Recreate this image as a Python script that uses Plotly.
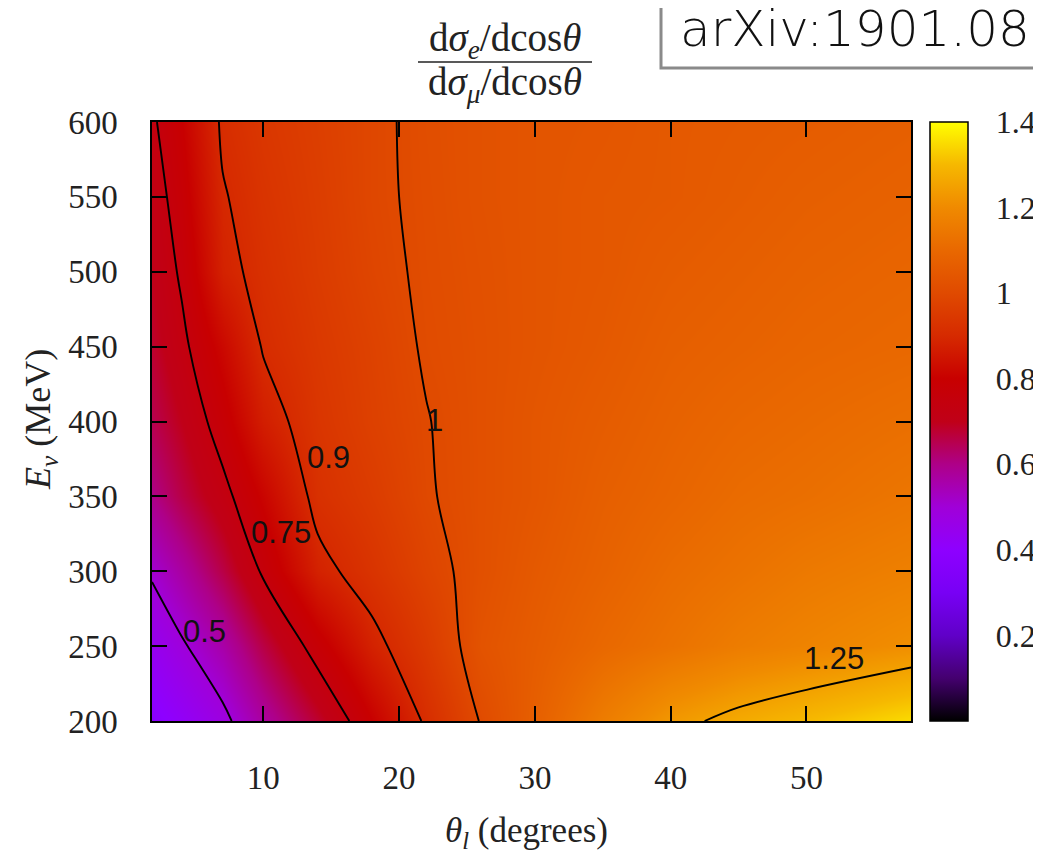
import plotly.graph_objects as go

# ---------------- data ----------------
theta_deg = [1.8, 4, 7, 10, 14, 18, 22, 26, 30, 35, 40, 45, 50, 57.7]
energy_mev = [200, 250, 300, 350, 400, 450, 500, 550, 600]

ratio_E200 = [0.38, 0.42, 0.48, 0.57, 0.68, 0.80, 0.91, 1.003, 1.07, 1.16, 1.23, 1.27, 1.30, 1.35]
ratio_E250 = [0.44, 0.49, 0.56, 0.66, 0.78, 0.88, 0.95, 1.03, 1.06, 1.10, 1.13, 1.16, 1.18, 1.21]
ratio_E300 = [0.51, 0.57, 0.66, 0.76, 0.88, 0.93, 0.98, 1.02, 1.05, 1.08, 1.11, 1.13, 1.15, 1.17]
ratio_E350 = [0.60, 0.66, 0.73, 0.81, 0.92, 0.955, 0.995, 1.02, 1.04, 1.07, 1.09, 1.11, 1.12, 1.14]
ratio_E400 = [0.65, 0.70, 0.78, 0.87, 0.935, 0.97, 0.998, 1.02, 1.04, 1.06, 1.08, 1.095, 1.105, 1.12]
ratio_E450 = [0.68, 0.735, 0.82, 0.905, 0.945, 0.975, 1.005, 1.02, 1.035, 1.05, 1.07, 1.08, 1.09, 1.10]
ratio_E500 = [0.70, 0.76, 0.88, 0.92, 0.955, 0.985, 1.008, 1.022, 1.035, 1.045, 1.06, 1.07, 1.08, 1.09]
ratio_E550 = [0.72, 0.78, 0.895, 0.93, 0.96, 0.99, 1.01, 1.025, 1.035, 1.045, 1.05, 1.06, 1.07, 1.08]
ratio_E600 = [0.74, 0.80, 0.91, 0.94, 0.965, 0.99, 1.012, 1.025, 1.035, 1.04, 1.05, 1.055, 1.06, 1.07]
ratio_grid = [ratio_E200, ratio_E250, ratio_E300, ratio_E350, ratio_E400,
              ratio_E450, ratio_E500, ratio_E550, ratio_E600]

contour_levels = [0.5, 0.75, 0.9, 1.0, 1.25]
contour_label_text = ["0.5", "0.75", "0.9", "1", "1.25"]
contour_label_theta = [5.7, 11.3, 14.8, 22.6, 52.0]
contour_label_energy = [260, 326, 376, 401, 242]

x_ticks = [10, 20, 30, 40, 50]
y_ticks = [200, 250, 300, 350, 400, 450, 500, 550, 600]
cbar_ticks = [0.2, 0.4, 0.6, 0.8, 1.0, 1.2, 1.4]

# ---------------- style ----------------
ZMIN, ZMAX = 0.0, 1.4
palette_vals = [0.0, 0.1, 0.2, 0.3, 0.4, 0.5, 0.6, 0.7, 0.8, 0.9, 1.0, 1.1, 1.2, 1.3, 1.4]
palette_cols = ['#000000', '#44006f', '#6000c8', '#7800f5', '#8e00ff', '#a000d8',
                '#ae0088', '#c00018', '#c80000', '#d62a00', '#e04a00', '#e96800',
                '#f08a00', '#f6b800', '#ffff00']
colorscale = [[v / ZMAX, c] for v, c in zip(palette_vals, palette_cols)]

# page body adds an offset; the figure is sized/positioned in screen pixels
OFF = 8
W_FIG, H_FIG = 1041 - OFF, 855 - OFF
SL, SR, ST, SB = 152, 911, 122, 721          # plot box in screen pixels
L, R, T, B = SL - OFF, SR - OFF, ST - OFF, SB - OFF
PW, PH = R - L, B - T


def px(xs):
    return (xs - OFF - L) / PW


def py(ys):
    return (B - (ys - OFF)) / PH


SERIF = "Liberation Serif"
SANS = "Liberation Sans"
TXT = "#222"

fig = go.Figure()

fig.add_trace(go.Heatmap(
    x=theta_deg, y=energy_mev, z=ratio_grid,
    zsmooth="best", zmin=ZMIN, zmax=ZMAX, colorscale=colorscale,
    hoverinfo="skip",
    colorbar=dict(
        x=px(930), xanchor="left", xpad=0, y=0.5, yanchor="middle", ypad=0,
        len=1, lenmode="fraction", thickness=38,
        outlinewidth=1.5, outlinecolor="black",
        tickvals=cbar_ticks, ticks="outside", ticklen=21,
        tickcolor="rgba(0,0,0,0)",
        tickfont=dict(family=SERIF, size=32, color=TXT),
    ),
))

for lev in contour_levels:
    fig.add_trace(go.Contour(
        x=theta_deg, y=energy_mev, z=ratio_grid,
        contours=dict(start=lev, end=lev, size=1, coloring="none"),
        line=dict(color="black", width=1.9, smoothing=1.0),
        showscale=False, hoverinfo="skip",
    ))

fig.update_layout(
    width=W_FIG, height=H_FIG,
    margin=dict(l=L, r=W_FIG - R, t=T, b=H_FIG - B, autoexpand=False),
    paper_bgcolor="white", plot_bgcolor="white",
    showlegend=False,
    xaxis=dict(range=[1.8, 57.7], tickvals=x_ticks, ticks="inside", ticklen=15,
               tickwidth=1.5, tickcolor="black", showline=True, linecolor="black",
               linewidth=1.5, mirror="ticks", showgrid=False, zeroline=False,
               ticklabelstandoff=27,
               tickfont=dict(family=SERIF, size=33, color=TXT)),
    yaxis=dict(range=[200, 600], tickvals=y_ticks, ticks="inside", ticklen=15,
               tickwidth=1.5, tickcolor="black", showline=True, linecolor="black",
               linewidth=1.5, mirror="ticks", showgrid=False, zeroline=False,
               ticklabelstandoff=26,
               tickfont=dict(family=SERIF, size=33, color=TXT)),
)

annotations = []
for txt, tx, ty in zip(contour_label_text, contour_label_theta, contour_label_energy):
    annotations.append(dict(x=tx, y=ty, xref="x", yref="y", text=txt, showarrow=False,
                            xanchor="center", yanchor="middle",
                            font=dict(family=SANS, size=31, color="#111")))


def paper_text(xs, ys, text, size, family=SERIF, **kw):
    d = dict(x=px(xs), y=py(ys), xref="paper", yref="paper", text=text,
             showarrow=False, xanchor="center", yanchor="middle",
             font=dict(family=family, size=size, color=TXT))
    d.update(kw)
    return d


# axis titles
annotations.append(paper_text(526, 832, "<i>θ</i><sub><i>l</i></sub> (degrees)", 35))
annotations.append(paper_text(40, 420, "<i>E</i><sub><i>ν</i></sub> (MeV)", 36, textangle=-90))
# fraction title
annotations.append(paper_text(505, 40, "d<i>σ</i><sub><i>e</i></sub>/dcos<i>θ</i>", 39))
annotations.append(paper_text(505, 84, "d<i>σ</i><sub><i>μ</i></sub>/dcos<i>θ</i>", 39))
# arXiv box text
arx = paper_text(678, 29, "arXiv:1901.08", 50, family="DejaVu Sans", xanchor="left")
arx["font"] = dict(family="DejaVu Sans", size=50, color="#111", weight=300)
annotations.append(arx)
fig.update_layout(annotations=annotations)

shapes = [
    dict(type="line", xref="paper", yref="paper", x0=px(418), x1=px(592),
         y0=py(62), y1=py(62), line=dict(color=TXT, width=1.5)),
    dict(type="rect", xref="paper", yref="paper", x0=px(661), x1=px(1070),
         y0=py(68), y1=py(-10), line=dict(color="#8a8a8a", width=3),
         fillcolor="rgba(255,255,255,0)", layer="below"),
]
for v in cbar_ticks[:-1]:
    yv = (v - ZMIN) / (ZMAX - ZMIN)
    shapes.append(dict(type="line", xref="paper", yref="paper", x0=px(930), x1=px(939),
                       y0=yv, y1=yv, line=dict(color="black", width=1.5)))
    shapes.append(dict(type="line", xref="paper", yref="paper", x0=px(959), x1=px(968),
                       y0=yv, y1=yv, line=dict(color="black", width=1.5)))
fig.update_layout(shapes=shapes)

fig.write_html("out.html")
